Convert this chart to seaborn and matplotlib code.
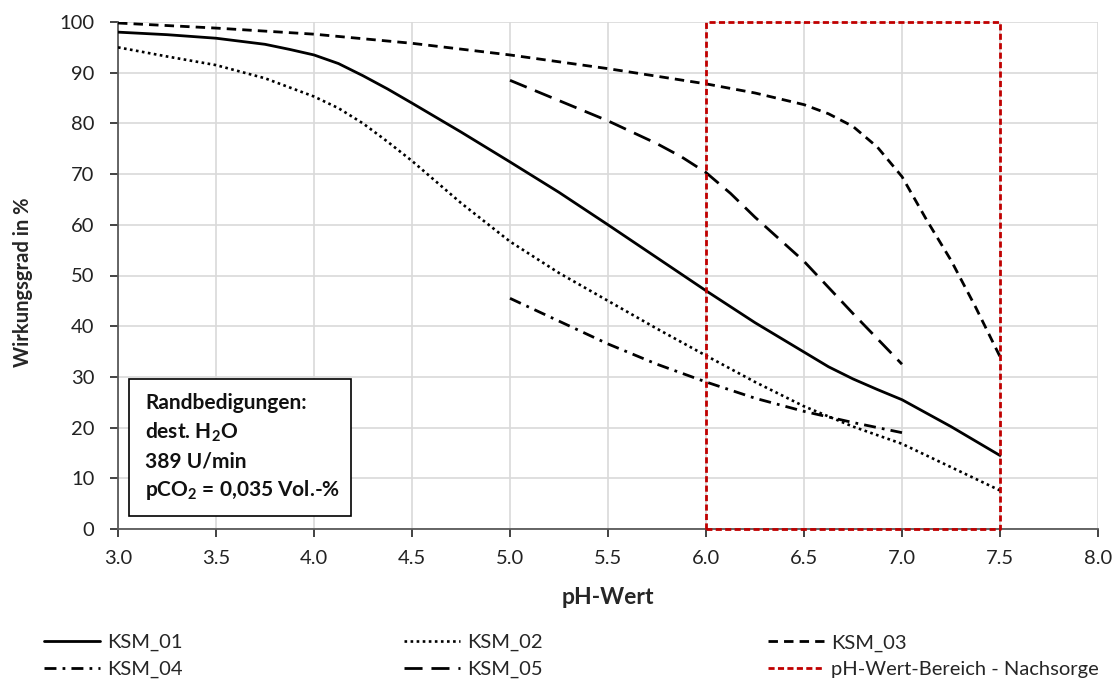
import numpy as np
import pandas as pd
import matplotlib
matplotlib.use("Agg")
import matplotlib.pyplot as plt
import seaborn as sns
from matplotlib.lines import Line2D
from matplotlib.patches import Rectangle

# ---- data ----
ph_01 = [3.0, 3.25, 3.5, 3.75, 3.875, 4.0, 4.125, 4.25, 4.375, 4.5, 4.75, 5.0, 5.25, 5.5,
         5.75, 6.0, 6.25, 6.5, 6.625, 6.75, 6.875, 7.0, 7.25, 7.5]
ksm_01 = [98.0, 97.5, 96.8, 95.6, 94.6, 93.5, 91.8, 89.4, 86.8, 84.0, 78.3, 72.4, 66.4, 60.0,
          53.5, 47.0, 40.7, 34.9, 32.0, 29.6, 27.5, 25.5, 20.2, 14.5]

ph_02 = [3.0, 3.25, 3.5, 3.75, 4.0, 4.125, 4.25, 4.375, 4.5, 4.75, 5.0, 5.25, 5.5, 5.75,
         6.0, 6.25, 6.5, 6.75, 7.0, 7.25, 7.5]
ksm_02 = [95.0, 93.2, 91.5, 88.9, 85.3, 83.0, 80.0, 76.4, 72.6, 64.3, 56.7, 50.5, 45.0, 39.5,
          34.2, 29.0, 24.2, 20.2, 16.8, 12.2, 7.6]

ph_03 = [3.0, 3.5, 4.0, 4.5, 5.0, 5.5, 6.0, 6.25, 6.5, 6.625, 6.75, 6.875, 7.0, 7.125,
         7.25, 7.375, 7.5]
ksm_03 = [99.8, 98.8, 97.6, 95.8, 93.5, 90.8, 87.8, 86.0, 83.7, 81.9, 79.4, 75.3, 69.5, 61.0,
          53.0, 43.8, 34.0]

ph_04 = [5.0, 5.25, 5.5, 5.75, 6.0, 6.25, 6.5, 6.75, 7.0]
ksm_04 = [45.5, 41.0, 36.5, 32.5, 29.0, 25.8, 23.2, 21.0, 19.0]

ph_05 = [5.0, 5.25, 5.5, 5.75, 5.875, 6.0, 6.125, 6.25, 6.5, 6.75, 7.0]
ksm_05 = [88.5, 84.5, 80.5, 76.0, 73.4, 70.3, 66.2, 61.5, 52.8, 42.5, 32.5]

nachsorge_range = [6.0, 7.5]
series_names = ["KSM_01", "KSM_02", "KSM_03", "KSM_04", "KSM_05"]
range_label = "pH-Wert-Bereich - Nachsorge"
box_lines = ["Randbedigungen:", r"dest. H$_\mathbf{2}$O", "389 U/min",
             r"pCO$_\mathbf{2}$ = 0,035 Vol.-%"]

x_ticks = np.arange(3.0, 8.01, 0.5)
y_ticks = np.arange(0, 101, 10)

# ---- style ----
sns.set_theme(style="white")
plt.rcParams["font.family"] = ["Lato", "DejaVu Sans"]
plt.rcParams["mathtext.fontset"] = "custom"
plt.rcParams["mathtext.rm"] = "Lato"
plt.rcParams["mathtext.bf"] = "Lato:bold"

W, H = 1116, 681
fig = plt.figure(figsize=(W / 100, H / 100), dpi=100)
ax = fig.add_axes([118 / W, (H - 529) / H, (1098 - 118) / W, (529 - 22) / H])

styles = {
    "KSM_01": dict(linestyle="-", linewidth=2.0),
    "KSM_02": dict(linestyle=(0, (1, 1.3)), linewidth=1.9),
    "KSM_03": dict(linestyle=(0, (3.4, 2.2)), linewidth=2.0),
    "KSM_04": dict(linestyle=(0, (4.3, 2.2, 1, 2.2)), linewidth=2.0),
    "KSM_05": dict(linestyle=(0, (6.5, 3.2)), linewidth=2.0),
}
data = {
    "KSM_01": (ph_01, ksm_01),
    "KSM_02": (ph_02, ksm_02),
    "KSM_03": (ph_03, ksm_03),
    "KSM_04": (ph_04, ksm_04),
    "KSM_05": (ph_05, ksm_05),
}
for name in series_names:
    xs, ys = data[name]
    sns.lineplot(x=xs, y=ys, ax=ax, color="black", **styles[name], zorder=3)

red_style = dict(color="#C00000", linestyle=(0, (2.2, 1.2)), linewidth=2.0)
x0, x1 = nachsorge_range
ax.plot([x0, x0, x1, x1, x0], [0, 100, 100, 0, 0], **red_style, zorder=4, clip_on=False)

ax.set_xlim(3.0, 8.0)
ax.set_ylim(0, 100)
ax.set_xticks(x_ticks)
ax.set_xticklabels([f"{t:.1f}" for t in x_ticks])
ax.set_yticks(y_ticks)
ax.set_yticklabels([f"{int(t)}" for t in y_ticks])
ax.tick_params(axis="both", labelsize=14.5, colors="#222222", length=6, width=1.2,
               direction="out", bottom=True, left=True)
ax.tick_params(axis="x", pad=9)
ax.tick_params(axis="y", pad=11)
ax.grid(True, color="#D9D9D9", linewidth=1.2)
ax.set_axisbelow(True)
for s in ["top", "right"]:
    ax.spines[s].set_visible(False)
for s in ["left", "bottom"]:
    ax.spines[s].set_color("#595959")
    ax.spines[s].set_linewidth(1.3)

ax.set_xlabel("pH-Wert", fontsize=16.5, fontweight="bold")
ax.set_ylabel("Wirkungsgrad in %", fontsize=14.5, fontweight="bold")
ax.xaxis.set_label_coords(0.5, -(587 - 529) / 507)
ax.yaxis.set_label_coords(-(118 - 33) / 980, (529 - 282) / 507)

# text box
ax.add_patch(Rectangle(((129 - 118) / 980, (529 - 516) / 507), 222 / 980, 137 / 507,
                       transform=ax.transAxes, facecolor="white", edgecolor="black",
                       linewidth=1.2, zorder=5))
for i, line in enumerate(box_lines):
    baseline_px = 409 + i * 29
    ax.text((145 - 118) / 980, (529 - baseline_px) / 507, line, transform=ax.transAxes,
            fontsize=15, fontweight="bold", va="baseline", ha="left", color="#111111",
            zorder=6)

# legend: three columns, two rows
handles = {name: Line2D([], [], color="black", **styles[name]) for name in series_names}
handles[range_label] = Line2D([], [], **red_style)
columns = [["KSM_01", "KSM_04"], ["KSM_02", "KSM_05"], ["KSM_03", range_label]]
col_x = [44, 404, 768]
for cx, labels in zip(col_x, columns):
    fig.legend([handles[k] for k in labels], labels, loc="center left",
               bbox_to_anchor=(cx / W, (H - 656) / H), frameon=False, fontsize=14.5,
               handlelength=2.8, handletextpad=0.35, labelspacing=0.45,
               borderpad=0, borderaxespad=0)

fig.savefig("out.png", dpi=100)
